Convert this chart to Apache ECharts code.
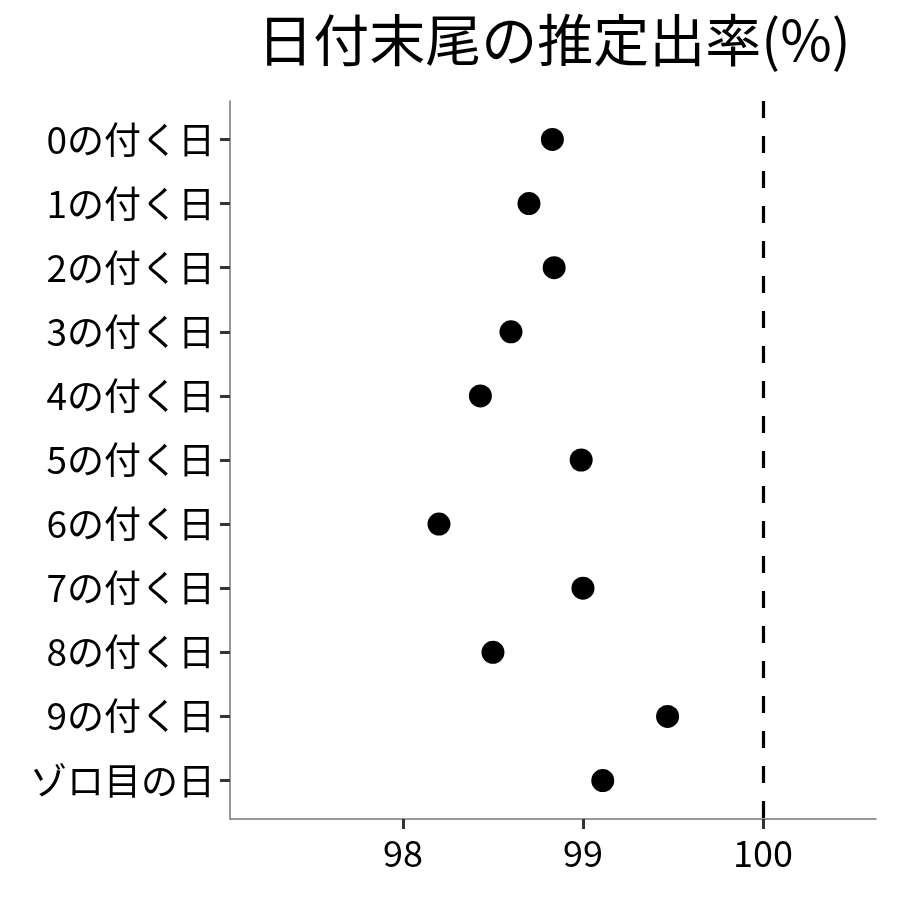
<!DOCTYPE html>
<html><head><meta charset="utf-8">
<script src="https://cdn.jsdelivr.net/npm/echarts@6/dist/echarts.min.js"></script>
<style>html,body{margin:0;padding:0;background:#fff}#c{width:900px;height:900px}</style>
</head><body><div id="c"></div>
<script>
const titleText = "日付末尾の推定出率(%)";
const categories = ["0の付く日","1の付く日","2の付く日","3の付く日","4の付く日","5の付く日","6の付く日","7の付く日","8の付く日","9の付く日","ゾロ目の日"];
const rates = [98.83, 98.70, 98.84, 98.60, 98.43, 98.99, 98.20, 99.00, 98.50, 99.47, 99.11];
const xTicks = [98, 99, 100];
const refLine = 100;

const font = '"Noto Sans CJK JP", "Noto Sans", sans-serif';
const chart = echarts.init(document.getElementById('c'), null, {renderer: 'canvas'});
const yIdx = categories.map((_, i) => i);
chart.setOption({
  animation: false,
  backgroundColor: '#ffffff',
  title: {
    text: titleText, left: 549, top: 7, textAlign: 'center',
    textStyle: {fontFamily: font, fontSize: 56, fontWeight: 'normal', color: '#000'}
  },
  grid: {left: 230, right: 24, top: 101, bottom: 81},
  xAxis: {
    type: 'value', min: 97.039, max: 100.628,
    splitLine: {show: false},
    axisLine: {show: true, onZero: false, lineStyle: {color: '#777', width: 1.5}},
    axisTick: {show: true, customValues: xTicks, length: 10, lineStyle: {color: '#333', width: 3}},
    axisLabel: {customValues: xTicks, margin: 16, fontFamily: font, fontSize: 36, color: '#000'}
  },
  yAxis: {
    type: 'value', min: -0.6, max: 10.6, inverse: true,
    splitLine: {show: false},
    axisLine: {show: true, onZero: false, lineStyle: {color: '#777', width: 1.5}},
    axisTick: {show: true, customValues: yIdx, length: 10, lineStyle: {color: '#333', width: 3}},
    axisLabel: {customValues: yIdx, margin: 15, fontFamily: font, fontSize: 37, color: '#000',
      formatter: v => categories[Math.round(v)]}
  },
  series: [{
    type: 'scatter', symbol: 'circle', symbolSize: 23,
    itemStyle: {color: '#000', opacity: 1},
    data: rates.map((r, i) => [r, i]),
    markLine: {
      silent: true, symbol: 'none', label: {show: false},
      lineStyle: {color: '#000', type: [17, 18], width: 3.2},
      data: [{xAxis: refLine}]
    }
  }]
});
</script></body></html>
